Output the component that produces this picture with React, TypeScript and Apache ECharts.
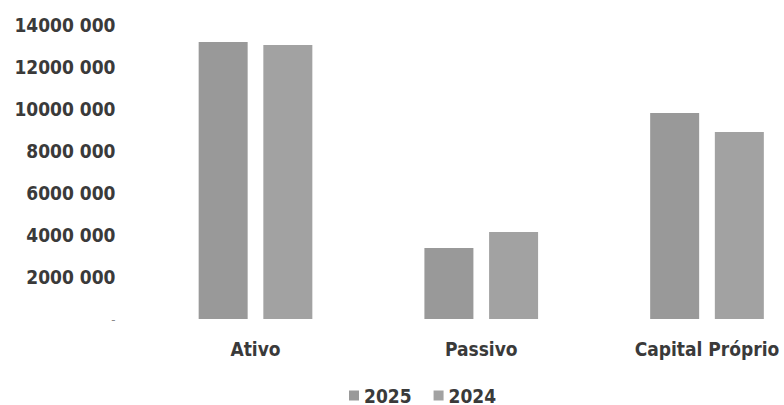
import React, { useEffect, useRef } from "react";
import * as echarts from "echarts";

const categories = ["Ativo", "Passivo", "Capital Próprio"];
const seriesNames = ["2025", "2024"];
const values2025 = [13190000, 3380000, 9810000];
const values2024 = [13050000, 4140000, 8910000];
const yTicks = [0, 2000000, 4000000, 6000000, 8000000, 10000000, 12000000, 14000000];

const FONT = "'DejaVu Sans Condensed', 'DejaVu Sans', sans-serif";

function fmt(v: number): string {
  if (v === 0) return "{z|-}";
  return Math.round(v / 1000) + " 000";
}

export default function App() {
  const ref = useRef<HTMLDivElement>(null);
  useEffect(() => {
    document.body.style.margin = "0";
    const chart = echarts.init(ref.current!, undefined, { renderer: "svg" });
    chart.setOption({
      animation: false,
      backgroundColor: "#ffffff",
      grid: { left: 255.5, top: 25, right: 77, height: 294, containLabel: false },
      legend: {
        data: seriesNames,
        left: 349,
        top: 386,
        padding: 0,
        icon: "rect",
        itemWidth: 10,
        itemHeight: 10,
        itemGap: 22,
        textStyle: { fontFamily: FONT, fontSize: 19, color: "#3a3a3a", fontWeight: "bold" },
      },
      xAxis: {
        type: "category",
        data: categories,
        boundaryGap: false,
        axisLine: { show: false },
        axisTick: { show: false },
        axisLabel: {
          margin: 20,
          fontFamily: FONT,
          fontSize: 19,
          fontWeight: "bold",
          color: "#3a3a3a",
        },
      },
      yAxis: {
        type: "value",
        min: yTicks[0],
        max: yTicks[yTicks.length - 1],
        interval: 2000000,
        splitLine: { show: false },
        axisLine: { show: false },
        axisTick: { show: false },
        axisLabel: {
          margin: 140,
          fontFamily: FONT,
          fontSize: 19,
          fontWeight: "bold",
          color: "#3a3a3a",
          formatter: (v: number) => fmt(v),
          rich: {
            z: { fontFamily: FONT, fontSize: 13, color: "#8a8a8a", fontWeight: "normal" },
          },
        },
      },
      series: [
        {
          name: seriesNames[0],
          type: "bar",
          data: values2025,
          barWidth: 49,
          barGap: "32%",
          clip: false,
          itemStyle: { color: "#999999" },
        },
        {
          name: seriesNames[1],
          type: "bar",
          data: values2024,
          barWidth: 49,
          barGap: "32%",
          clip: false,
          itemStyle: { color: "#a2a2a2" },
        },
      ],
    });
    return () => chart.dispose();
  }, []);
  return (
    <div
      ref={ref}
      style={{ position: "absolute", left: 0, top: 0, width: 784, height: 405 }}
    />
  );
}
